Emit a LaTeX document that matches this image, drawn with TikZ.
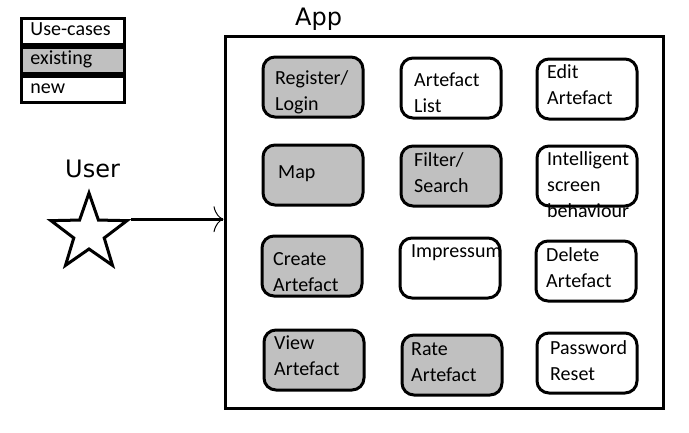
\documentclass[tikz,border=0pt]{standalone}
\usepackage{fontspec}
\setmainfont{Carlito}[Ligatures=NoCommon]
\newfontfamily\titlefont{DejaVu Sans}
\usepackage{tikz}
\usetikzlibrary{shapes.geometric,arrows.meta,positioning}
\definecolor{existgray}{RGB}{192,192,192}

\tikzset{
  ucbox/.style={draw,line width=3pt,rounded corners=12pt,anchor=north west,
    inner sep=0pt,minimum width=100pt,minimum height=60pt},
  existing/.style={fill=existgray},
  % anchored at the baseline of the last line
  uctext/.style={anchor=base west,align=left,inner sep=0pt,
    font=\fontsize{20}{26}\selectfont},
  legrow/.style={draw,line width=3pt,anchor=north west,inner sep=0pt,
    minimum width=103pt,minimum height=26pt,text width=84pt,align=left,
    text height=13pt,text depth=4pt,font=\fontsize{20}{24}\selectfont},
  heading/.style={anchor=base west,inner sep=0pt,font=\titlefont\fontsize{24}{28}\selectfont},
}

\begin{document}
\begin{tikzpicture}[x=1pt,y=-1pt]
  \useasboundingbox (0,0) rectangle (689,432);
  % legend
  \node[legrow] (lg-use) at (19.5,16.5) {Use-cases};
  \node[legrow,existing,below=0pt of lg-use] (lg-exist) {existing};
  \node[legrow,below=0pt of lg-exist] (lg-new) {new};
  % app frame
  \node[draw,line width=3pt,anchor=north west,inner sep=0pt,
    minimum width=438pt,minimum height=372pt] (app) at (223.5,34.5) {};
  \node[heading] (app-title) at (295,25) {App};
  % actor
  \node[heading] (user-title) at (65,177) {User};
  \node[draw,line width=3pt,star,star points=5,star point ratio=2.5,
    minimum size=80pt,inner sep=0pt] (user) at (89,233) {};
  \draw[line width=3pt,-{Computer Modern Rightarrow[length=10pt,width=26pt,line width=1pt]}]
    (user.outer point 5) -- (user.outer point 5 -| app.west);
  % use-cases, row 1
  \node[ucbox,existing] (reg) at (261.5,55.5) {};
  \node[ucbox] (list) at (399.5,56.5) {};
  \node[ucbox] (edit) at (535.5,57.5) {};
  \node[uctext] (reg-t) at (275,110) {Register/\\Login};
  \node[uctext] (list-t) at (414,112) {Artefact\\List};
  \node[uctext] (edit-t) at (547,104) {Edit\\Artefact};
  % row 2
  \node[ucbox,existing] (map) at (261.5,143.5) {};
  \node[ucbox,existing] (filter) at (399.5,144.5) {};
  \node[ucbox] (screen) at (535.5,144.5) {};
  \node[uctext] (map-t) at (278,178) {Map};
  \node[uctext] (filter-t) at (414,192) {Filter/\\Search};
  \node[uctext] (screen-t) at (547,217) {Intelligent\\screen\\behaviour};
  % row 3
  \node[ucbox,existing] (create) at (260.5,234.5) {};
  \node[ucbox] (impr) at (398.5,236.5) {};
  \node[ucbox] (delete) at (534.5,239.5) {};
  \node[uctext] (create-t) at (273,291) {Create\\Artefact};
  \node[uctext] (impr-t) at (411,257) {Impressum};
  \node[uctext] (delete-t) at (546,287) {Delete\\Artefact};
  % row 4
  \node[ucbox,existing] (view) at (262.5,328.5) {};
  \node[ucbox,existing] (rate) at (400.5,333.5) {};
  \node[ucbox] (passwd) at (535.5,331.5) {};
  \node[uctext] (view-t) at (274,375) {View\\Artefact};
  \node[uctext] (rate-t) at (411,381) {Rate\\Artefact};
  \node[uctext] (passwd-t) at (550,380) {Password\\Reset};
\end{tikzpicture}
\end{document}
